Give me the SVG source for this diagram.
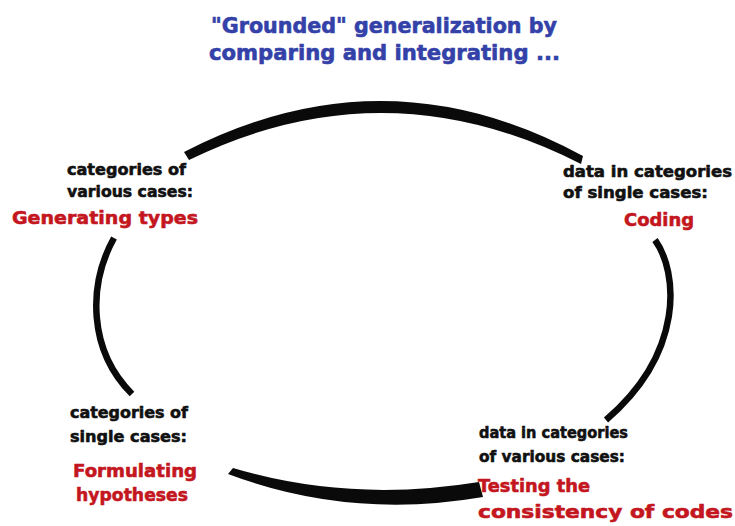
<svg xmlns="http://www.w3.org/2000/svg" width="735" height="526" viewBox="0 0 735 526">
<style>
text{font-family:"DejaVu Sans","Liberation Sans",sans-serif;font-weight:bold;stroke-width:0.6;stroke-linejoin:round}
.t{fill:#3341a8;stroke:#3341a8;font-size:21px}
.k{fill:#111;stroke:#111;font-size:16px}
.r{fill:#c4161e;stroke:#c4161e;font-size:18.5px}
.arc{fill:none;stroke:#0a0a0a;stroke-width:6.5;stroke-linecap:butt}
.brush{fill:#0a0a0a}
</style>
<rect width="735" height="526" fill="#fff"/>
<g id="title">
<text class="t" x="211" y="33" textLength="346" lengthAdjust="spacingAndGlyphs">"Grounded" generalization by</text>
<text class="t" x="209" y="60" textLength="351" lengthAdjust="spacingAndGlyphs">comparing and integrating ...</text>
</g>
<g id="connectors">
<path class="brush" d="M184,152 Q385,48 583,156 L581,164 Q385,64 189,160 Z"/>
<path class="arc" d="M655,240 C678,272 685,352 606,420"/>
<path class="brush" d="M228,474 Q350,520 483,497 L479,482 Q350,503 233,468 Z"/>
<path class="arc" d="M114,238 C88,285 88,350 132,394"/>
</g>
<g id="generating-types">
<text class="k" x="67" y="175" textLength="119" lengthAdjust="spacingAndGlyphs">categories of</text>
<text class="k" x="67" y="197" textLength="126" lengthAdjust="spacingAndGlyphs">various cases:</text>
<text class="r" x="12" y="224" textLength="186" lengthAdjust="spacingAndGlyphs">Generating types</text>
</g>
<g id="coding">
<text class="k" x="563" y="177" textLength="169" lengthAdjust="spacingAndGlyphs">data in categories</text>
<text class="k" x="563" y="198" textLength="145" lengthAdjust="spacingAndGlyphs">of single cases:</text>
<text class="r" x="624" y="226" textLength="70" lengthAdjust="spacingAndGlyphs">Coding</text>
</g>
<g id="formulating-hypotheses">
<text class="k" x="70" y="418" textLength="118" lengthAdjust="spacingAndGlyphs">categories of</text>
<text class="k" x="70" y="442" textLength="117" lengthAdjust="spacingAndGlyphs">single cases:</text>
<text class="r" x="73" y="477" textLength="124" lengthAdjust="spacingAndGlyphs">Formulating</text>
<text class="r" x="76" y="501" textLength="112" lengthAdjust="spacingAndGlyphs">hypotheses</text>
</g>
<g id="testing-consistency">
<text class="k" x="479" y="438" textLength="149" lengthAdjust="spacingAndGlyphs">data in categories</text>
<text class="k" x="479" y="462" textLength="146" lengthAdjust="spacingAndGlyphs">of various cases:</text>
<text class="r" x="478" y="492" textLength="112" lengthAdjust="spacingAndGlyphs">Testing the</text>
<text class="r" x="478" y="518" textLength="255" lengthAdjust="spacingAndGlyphs">consistency of codes</text>
</g>
</svg>
